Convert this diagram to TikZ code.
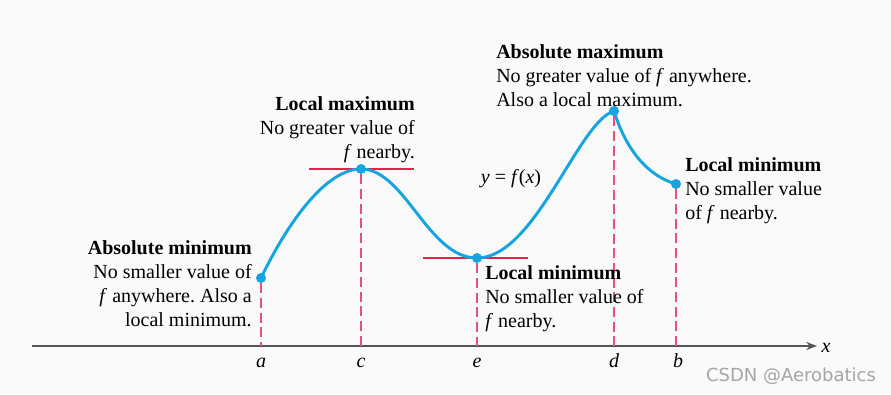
\documentclass[tikz,border=0pt]{standalone}
\usepackage{fontspec}
\setmainfont{Liberation Serif}
\newfontfamily\wmfont{DejaVu Sans}
\usetikzlibrary{arrows.meta}
\definecolor{curveblue}{RGB}{20,165,225}
\definecolor{guidered}{RGB}{232,80,120}
\definecolor{tangentred}{RGB}{225,35,75}
\definecolor{axisgray}{RGB}{85,85,85}
\definecolor{bggray}{RGB}{250,250,250}
\frenchspacing
\tikzset{
	pt/.style={circle,fill=curveblue,inner sep=0pt,minimum size=7.5pt},
	curve/.style={curveblue,line width=2.2pt},
	guide/.style={guidered,line width=1.3pt,dash pattern=on 7.5pt off 3.5pt},
	tangent/.style={tangentred,line width=1.5pt},
	note/.style={inner sep=0pt,font=\fontsize{15}{18}\selectfont},
	ticklabel/.style={inner sep=0pt,anchor=base,font=\fontsize{15}{18}\selectfont\itshape}
}
\begin{document}
\begin{tikzpicture}[x=0.75pt,y=-0.75pt]
	\fill[bggray] (0,0) rectangle (891,394);
	\useasboundingbox (0,0) rectangle (891,394);
	\coordinate (pa) at (261,278);
	\coordinate (pc) at (361,169);
	\coordinate (pe) at (477,258);
	\coordinate (pd) at (614,111);
	\coordinate (pb) at (676,184);
	\coordinate (o) at (32,346);
	\coordinate (xend) at (817,346);
	\coordinate (xa) at (261,346);
	\coordinate (xc) at (361,346);
	\coordinate (xe) at (477,346);
	\coordinate (xd) at (614,346);
	\coordinate (xb) at (676,346);
	\draw[axisgray,line width=1.5pt,-{Stealth[length=8pt,width=6pt]}] (o) -- (xend);
	\node[ticklabel] (lx) at (826,352) {x};
	\draw[tangent] (pc) +(-52,0) -- +(53,0);
	\draw[tangent] (pe) +(-54,0) -- +(51,0);
	\draw[curve] (pa) .. controls (288,222) and (326,169) .. (pc)
		.. controls (405,169) and (428,258) .. (pe)
		.. controls (535,258) and (578,122) .. (pd)
		.. controls (626,150) and (648,176) .. (pb);
	\node[pt] (a) at (pa) {};
	\node[pt] (c) at (pc) {};
	\node[pt] (e) at (pe) {};
	\node[pt] (d) at (pd) {};
	\node[pt] (b) at (pb) {};
	\draw[guide] (a) -- (xa);
	\draw[guide] (c) -- (xc);
	\draw[guide] (e) -- (xe);
	\draw[guide] (d) -- (xd);
	\draw[guide] (b) -- (xb);
	\node[ticklabel] (la) at (261,367) {a};
	\node[ticklabel] (lc) at (361,367) {c};
	\node[ticklabel] (le) at (477,367) {e};
	\node[ticklabel] (ld) at (614,367) {d};
	\node[ticklabel] (lb) at (678,367) {b};
	\node[note,anchor=base] (fx) at (511,183) {\textit{y} = \textit{f}(\textit{x})};
	\node[note,anchor=north east,align=right] (absmin) at (252,240) {\textbf{Absolute minimum}\\No smaller value of\\\textit{f} anywhere. Also a\\local minimum.};
	\node[note,anchor=north east,align=right] (locmax) at (415,96) {\textbf{Local maximum}\\No greater value of\\\textit{f} nearby.};
	\node[note,anchor=north west,align=left] (absmax) at (496,44) {\textbf{Absolute maximum}\\No greater value of \textit{f} anywhere.\\Also a local maximum.};
	\node[note,anchor=north west,align=left] (locmine) at (485,265) {\textbf{Local minimum}\\No smaller value of\\\textit{f} nearby.};
	\node[note,anchor=north west,align=left] (locminb) at (685,157) {\textbf{Local minimum}\\No smaller value\\of \textit{f} nearby.};
	\node[inner sep=0pt,font=\wmfont\fontsize{13.5}{16}\selectfont,text=black!35] (wm) at (791,376) {CSDN @Aerobatics};
\end{tikzpicture}
\end{document}
